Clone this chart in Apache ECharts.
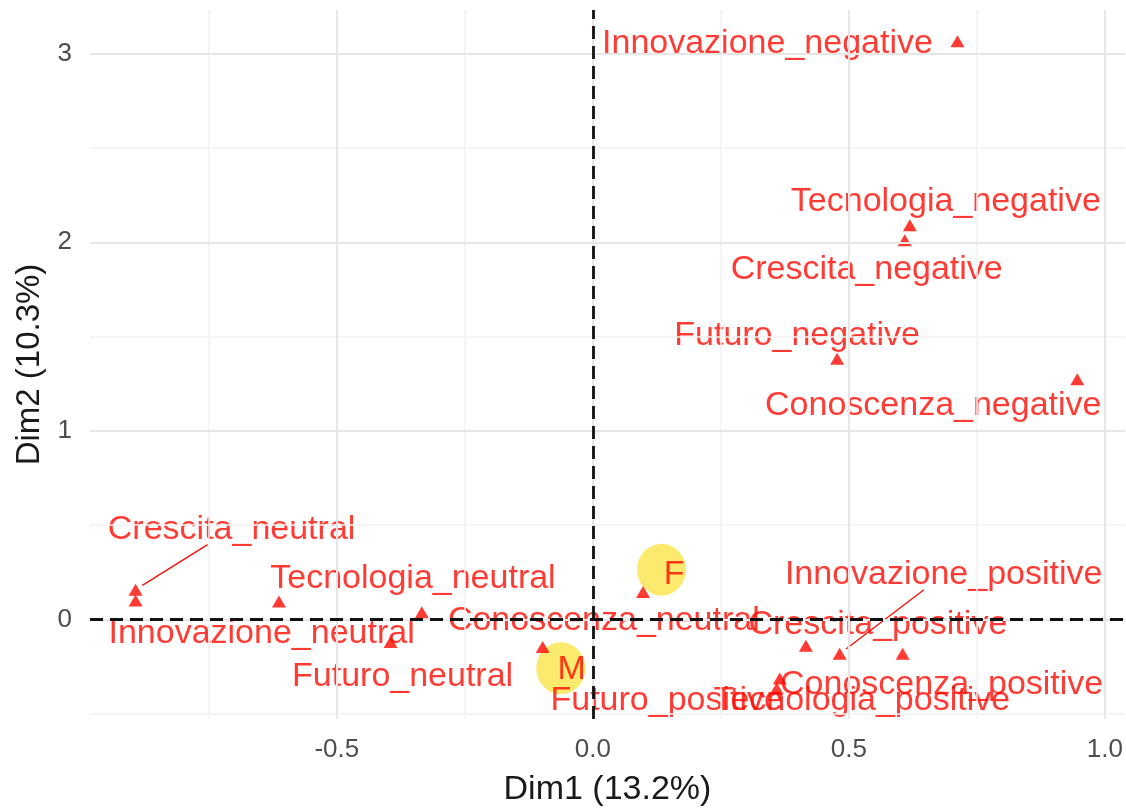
<!DOCTYPE html>
<html>
<head>
<meta charset="utf-8">
<title>MCA variables</title>
<script src="https://cdn.jsdelivr.net/npm/echarts@6/dist/echarts.min.js"></script>
<style>
  html, body { margin: 0; padding: 0; background: #fff; }
  #chart { width: 1126px; height: 812px; }
</style>
</head>
<body>
<div id="chart"></div>
<script>
// category points (Dim1, Dim2)
const categories = [
  "Innovazione_negative", "Tecnologia_negative", "Crescita_negative", "Futuro_negative", "Conoscenza_negative",
  "Crescita_neutral", "Tecnologia_neutral", "Innovazione_neutral", "Conoscenza_neutral", "Futuro_neutral",
  "F", "M",
  "Innovazione_positive", "Crescita_positive", "Conoscenza_positive", "Tecnologia_positive", "Futuro_positive"
];
const dim1 = [0.712, 0.619, 0.609, 0.477, 0.946, -0.893, -0.613, -0.893, -0.334, -0.395, 0.098, -0.098, 0.482, 0.416, 0.605, 0.365, 0.359];
const dim2 = [3.066, 2.090, 2.011, 1.383, 1.274, 0.158, 0.095, 0.101, 0.038, -0.119, 0.146, -0.146, -0.182, -0.140, -0.182, -0.313, -0.366];

// yellow highlight spots behind the F / M labels
const highlightNames = ["F", "M"];
const highlightDim1 = [0.134, -0.0625];
const highlightDim2 = [0.264, -0.259];

// axis breaks
const xBreaks = [-0.5, 0, 0.5, 1];
const xMinorBreaks = [-0.75, -0.25, 0.25, 0.75];
const yBreaks = [0, 1, 2, 3];
const yMinorBreaks = [-0.5, 0.5, 1.5, 2.5];

// repelled label placement (pixel shift of label centre from its point)
const labelShift = [
  [-190, 2], [36, -24], [-38, 29], [-40, -23], [-144, 26],
  [96, -60], [134, -23], [126, 33], [182, 8], [12, 35],
  [31, -17], [29, 23],
  [104, -79], [72, -21], [39, 31], [82, 22], [-110, 12]
];
const withSegment = ["Crescita_neutral", "Innovazione_positive"];

const FONT = '"Liberation Sans", Arial, Helvetica, sans-serif';
const RED = "#FF0A00";
const majorGrid = { color: "#E6E6E6", width: 2, type: "solid" };
const minorGrid = { color: "#F2F2F2", width: 1.5, type: "solid" };

const chart = echarts.init(document.getElementById("chart"), null, { renderer: "canvas" });

const points = categories.map((name, i) => ({ name: name, value: [dim1[i], dim2[i]] }));

// segment from a repelled label back to its point
const segments = withSegment.map(name => {
  const i = categories.indexOf(name);
  return [dim1[i], dim2[i], labelShift[i][0], labelShift[i][1]];
});

function renderSegment(params, api) {
  const p = api.coord([api.value(0), api.value(1)]);
  const dx = api.value(2), dy = api.value(3);
  const c = [p[0] + dx, p[1] + dy];
  const len = Math.hypot(dx, dy);
  const t0 = 15 / Math.abs(dy);      // leave the label box
  const t1 = 1 - 8 / len;             // stop short of the point
  return {
    type: "line",
    shape: {
      x1: c[0] - dx * t0, y1: c[1] - dy * t0,
      x2: c[0] - dx * t1, y2: c[1] - dy * t1
    },
    style: { stroke: RED, lineWidth: 1.3 }
  };
}

chart.setOption({
  animation: false,
  backgroundColor: "#ffffff",
  textStyle: { fontFamily: FONT },
  grid: { left: 90, right: 1, top: 10, bottom: 84, containLabel: false },
  xAxis: {
    type: "value",
    min: -0.982,
    max: 1.039,
    name: "Dim1 (13.2%)",
    nameLocation: "middle",
    nameGap: 54,
    nameTextStyle: { fontSize: 34, color: "#1A1A1A", fontFamily: FONT },
    axisLine: { show: false },
    splitLine: { show: false },
    axisTick: { show: true, customValues: xBreaks, length: 8, lineStyle: { color: "#333333", width: 2 } },
    axisLabel: {
      customValues: xBreaks,
      formatter: v => v.toFixed(1),
      color: "#4D4D4D",
      fontSize: 26,
      margin: 18,
      fontFamily: FONT
    }
  },
  yAxis: {
    type: "value",
    min: -0.528,
    max: 3.232,
    name: "Dim2 (10.3%)",
    nameLocation: "middle",
    nameGap: 40,
    nameTextStyle: { fontSize: 33, color: "#1A1A1A", fontFamily: FONT },
    axisLine: { show: false },
    splitLine: { show: false },
    axisTick: { show: true, customValues: yBreaks, length: 9, lineStyle: { color: "#333333", width: 2 } },
    axisLabel: {
      customValues: yBreaks,
      formatter: v => String(v),
      color: "#4D4D4D",
      fontSize: 26,
      margin: 18,
      fontFamily: FONT
    }
  },
  series: [
    {
      // panel grid
      type: "line",
      data: [],
      z: 0,
      silent: true,
      markLine: {
        silent: true,
        symbol: "none",
        label: { show: false },
        animation: false,
        data: [
          ...xMinorBreaks.map(v => ({ xAxis: v, lineStyle: minorGrid })),
          ...yMinorBreaks.map(v => ({ yAxis: v, lineStyle: minorGrid })),
          ...xBreaks.map(v => ({ xAxis: v, lineStyle: majorGrid })),
          ...yBreaks.map(v => ({ yAxis: v, lineStyle: majorGrid }))
        ]
      }
    },
    {
      // highlight spots
      type: "scatter",
      z: 1,
      silent: true,
      symbol: "circle",
      symbolSize: [49, 52],
      itemStyle: { color: "#FCEA6E", opacity: 1 },
      data: highlightNames.map((n, i) => ({ name: n, value: [highlightDim1[i], highlightDim2[i]] }))
    },
    {
      type: "custom",
      z: 2,
      silent: true,
      renderItem: renderSegment,
      data: segments
    },
    {
      type: "scatter",
      z: 3,
      symbol: "triangle",
      symbolSize: [14, 12],
      itemStyle: { color: RED },
      label: {
        show: true,
        position: "inside",
        formatter: "{b}",
        color: RED,
        fontSize: 34,
        fontFamily: FONT
      },
      labelLayout: p => ({ dx: labelShift[p.dataIndex][0], dy: labelShift[p.dataIndex][1] }),
      data: points
    },
    {
      // reference lines at the origin
      type: "line",
      data: [],
      z: 10,
      silent: true,
      markLine: {
        silent: true,
        symbol: "none",
        label: { show: false },
        animation: false,
        lineStyle: { color: "#111111", width: 2.8, type: [13, 7] },
        data: [{ xAxis: 0 }, { yAxis: 0 }]
      }
    }
  ]
});
</script>
</body>
</html>
